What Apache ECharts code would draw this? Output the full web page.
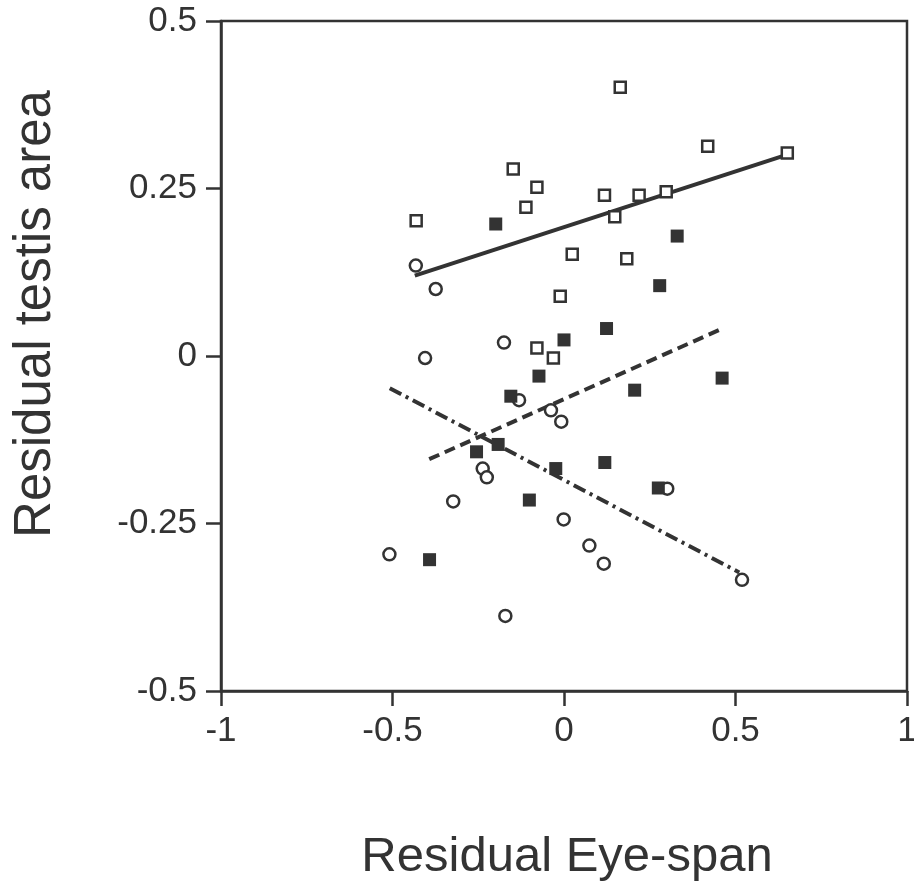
<!DOCTYPE html>
<html>
<head>
<meta charset="utf-8">
<script src="https://cdn.jsdelivr.net/npm/echarts@6/dist/echarts.min.js"></script>
<style>
  html, body { margin: 0; padding: 0; background: #fff; overflow: hidden; }
  #chart { width: 914px; height: 888px; }
</style>
</head>
<body>
<div id="chart"></div>
<script>
var ink = '#333333';

// open squares  [eye-span, testis area]
var openSquares = [
    [0.164, 0.401], [0.419, 0.313], [0.651, 0.303], [-0.148, 0.279],
    [-0.079, 0.252], [-0.111, 0.222], [-0.431, 0.202], [0.118, 0.240],
    [0.219, 0.240], [0.298, 0.245], [0.148, 0.208], [0.024, 0.152],
    [0.183, 0.145], [-0.011, 0.089], [-0.079, 0.012], [-0.031, -0.003]
];
// filled squares
var filledSquares = [
    [-0.199, 0.197], [0.330, 0.179], [0.279, 0.105], [0.124, 0.041],
    [0.000, 0.024], [-0.073, -0.030], [0.461, -0.033], [0.206, -0.051],
    [-0.155, -0.060], [-0.192, -0.132], [-0.255, -0.143], [-0.024, -0.168],
    [0.119, -0.159], [0.275, -0.197], [-0.101, -0.215], [-0.392, -0.304]
];
// open circles
var openCircles = [
    [-0.432, 0.135], [-0.374, 0.100], [-0.175, 0.020], [-0.405, -0.003],
    [-0.131, -0.066], [-0.038, -0.081], [-0.008, -0.098], [-0.237, -0.168],
    [-0.225, -0.181], [0.301, -0.198], [-0.323, -0.217], [-0.001, -0.244],
    [0.074, -0.283], [0.116, -0.310], [-0.509, -0.296], [0.519, -0.334],
    [-0.171, -0.388]
];
// fitted lines (end points)
var fitOpenSquares = [[-0.435, 0.120], [0.653, 0.301]];
var fitFilledSquares = [[-0.393, -0.154], [0.462, 0.041]];
var fitOpenCircles = [[-0.508, -0.048], [0.511, -0.323]];

var xTicks = [-1, -0.5, 0, 0.5, 1];
var yTicks = [-0.5, -0.25, 0, 0.25, 0.5];

var box = echarts.init(document.getElementById('chart'));

var axisFont = 'Liberation Sans, Arial, sans-serif';

option = {
    animation: false,
    grid: {
        left: 221,
        right: 7,
        top: 21,
        bottom: 197,
        outerBoundsMode: 'none',   // let the "1" label run off the edge like the original
        show: true,
        borderColor: ink,
        borderWidth: 2.5
    },
    xAxis: {
        type: 'value',
        min: xTicks[0],
        max: xTicks[xTicks.length - 1],
        interval: 0.5,
        name: 'Residual Eye-span',
        nameLocation: 'middle',
        nameGap: 142,
        nameTextStyle: { color: ink, fontSize: 49, fontFamily: axisFont, padding: [0, 0, 0, 6] },
        axisLine: { onZero: false, lineStyle: { color: ink, width: 2.5 } },
        axisTick: { length: 15, lineStyle: { color: ink, width: 2.5 } },
        splitLine: { show: false },
        axisLabel: {
            color: ink, fontSize: 35, fontFamily: axisFont, margin: 23,
            formatter: function (v) { return String(v); }
        }
    },
    yAxis: {
        type: 'value',
        min: yTicks[0],
        max: yTicks[yTicks.length - 1],
        interval: 0.25,
        name: 'Residual testis area',
        nameLocation: 'middle',
        nameGap: 160,
        nameTextStyle: { color: ink, fontSize: 51, fontFamily: axisFont, padding: [0, 0, 0, 84] },
        axisLine: { onZero: false, lineStyle: { color: ink, width: 2.5 } },
        axisTick: { length: 15, lineStyle: { color: ink, width: 2.5 } },
        splitLine: { show: false },
        axisLabel: {
            color: ink, fontSize: 35, fontFamily: axisFont, margin: 24,
            formatter: function (v) { return String(v); }
        }
    },
    series: [
        {
            type: 'line',
            data: fitOpenSquares,
            symbol: 'none',
            lineStyle: { color: ink, width: 4, type: 'solid' },
            z: 1
        },
        {
            type: 'line',
            data: fitFilledSquares,
            symbol: 'none',
            lineStyle: { color: ink, width: 4, type: [11, 6] },
            z: 1
        },
        {
            type: 'line',
            data: fitOpenCircles,
            symbol: 'none',
            lineStyle: { color: ink, width: 4, type: [13, 5, 3, 5] },
            z: 1
        },
        {
            type: 'scatter',
            data: openCircles,
            symbol: 'circle',
            symbolSize: 12,
            itemStyle: { color: '#fff', borderColor: ink, borderWidth: 2.5, opacity: 1 },
            z: 2
        },
        {
            type: 'scatter',
            data: openSquares,
            symbol: 'rect',
            symbolSize: 11,
            itemStyle: { color: '#fff', borderColor: ink, borderWidth: 2.5, opacity: 1 },
            z: 3
        },
        {
            type: 'scatter',
            data: filledSquares,
            symbol: 'rect',
            symbolSize: 13,
            itemStyle: { color: ink, opacity: 1 },
            z: 3
        }
    ]
};
box.setOption(option);
</script>
</body>
</html>
